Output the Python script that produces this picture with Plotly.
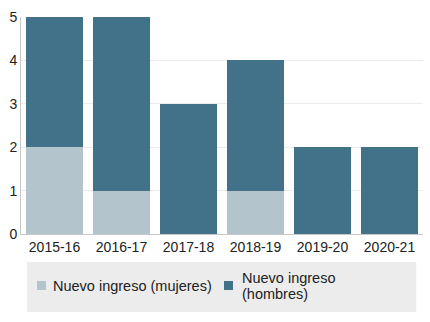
import plotly.graph_objects as go

categorias = ["2015-16", "2016-17", "2017-18", "2018-19", "2019-20", "2020-21"]
mujeres = [2, 1, 0, 1, 0, 0]
hombres = [3, 4, 3, 3, 2, 2]
etiquetas_leyenda = ["Nuevo ingreso (mujeres)", ["Nuevo ingreso", "(hombres)"]]

COLOR_MUJERES = "#b4c4cd"
COLOR_HOMBRES = "#41728a"
FUENTE = "Liberation Sans, Arial, sans-serif"
TEXTO = "#222222"

fig = go.Figure()
fig.add_trace(go.Bar(x=categorias, y=mujeres, name="Nuevo ingreso (mujeres)",
                     marker=dict(color=COLOR_MUJERES, line=dict(width=0)), showlegend=False))
fig.add_trace(go.Bar(x=categorias, y=hombres, name="Nuevo ingreso (hombres)",
                     marker=dict(color=COLOR_HOMBRES, line=dict(width=0)), showlegend=False))

# legend panel drawn in paper coordinates below the plot area
fig.add_shape(type="rect", xref="paper", yref="paper",
              x0=0.015, x1=0.983, y0=-0.359, y1=-0.129,
              fillcolor="#ececec", line=dict(width=0), layer="below")

def cuadro(x0, color):
    fig.add_shape(type="rect", xref="paper", yref="paper",
                  x0=x0, x1=x0 + 0.0224, y0=-0.258, y1=-0.2166,
                  fillcolor=color, line=dict(width=0))

def texto(x, y, t):
    fig.add_annotation(xref="paper", yref="paper", x=x, y=y, text=t,
                       xanchor="left", yanchor="middle", showarrow=False,
                       font=dict(family=FUENTE, size=14.5, color=TEXTO), borderpad=0)

cuadro(0.0398, COLOR_MUJERES)
texto(0.0771, -0.2396, etiquetas_leyenda[0])
cuadro(0.505, COLOR_HOMBRES)
texto(0.5473, -0.2028, etiquetas_leyenda[1][0])
texto(0.5473, -0.2765, etiquetas_leyenda[1][1])

fig.update_layout(
    barmode="stack",
    bargap=0.15,
    width=430, height=322,
    margin=dict(l=21, r=7, t=17, b=88),
    paper_bgcolor="white", plot_bgcolor="white",
    font=dict(family=FUENTE, size=14, color=TEXTO),
    showlegend=False,
    xaxis=dict(showline=True, linecolor="#c8c8c8", linewidth=1, ticks="",
               tickfont=dict(size=14, color=TEXTO), showgrid=False),
    yaxis=dict(range=[0, 5], dtick=1, showline=True, linecolor="#c8c8c8", linewidth=1,
               gridcolor="#ececec", gridwidth=1, zeroline=False, ticks="",
               tickfont=dict(size=14, color=TEXTO)),
)

fig.write_html("out.html")
